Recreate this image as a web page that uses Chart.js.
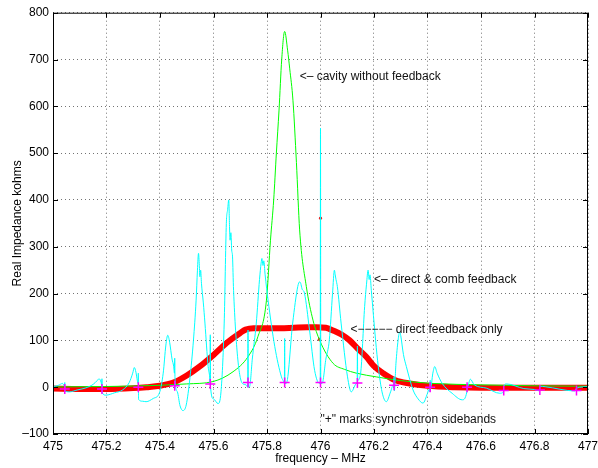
<!DOCTYPE html>
<html>
<head>
<meta charset="utf-8">
<script src="https://cdn.jsdelivr.net/npm/chart.js@4.4.1/dist/chart.umd.min.js"></script>
<style>
  html, body { margin: 0; padding: 0; background: #fff; }
  #wrap { width: 598px; height: 468px; }
</style>
</head>
<body>
<div id="wrap"><canvas id="chart"></canvas></div>
<script>
// x ticks (MHz) and y ticks (kohms)
const xTicks = [475, 475.2, 475.4, 475.6, 475.8, 476, 476.2, 476.4, 476.6, 476.8, 477];
const xTickLabels = ["475", "475.2", "475.4", "475.6", "475.8", "476", "476.2", "476.4", "476.6", "476.8", "477"];
const yTicks = [-100, 0, 100, 200, 300, 400, 500, 600, 700, 800];

// cavity without feedback
const greenPts = [
  [475.0, 0.5], [475.2, 1.5], [475.3, 2.5], [475.4, 4], [475.5, 7], [475.598, 12],
  [475.673, 33], [475.729, 65], [475.766, 108], [475.798, 186], [475.813, 314],
  [475.825, 400], [475.835, 500], [475.845, 592], [475.855, 700], [475.866, 760],
  [475.877, 720], [475.885, 680], [475.897, 613], [475.910, 480], [475.922, 336],
  [475.947, 215], [475.972, 143], [475.997, 100], [476.047, 51], [476.09, 38],
  [476.134, 30], [476.209, 22], [476.3, 14], [476.42, 8], [476.6, 5], [476.79, 3], [477.0, 2]
];

// direct feedback only
const redPts = [
  [475.0, -3], [475.1, -4], [475.2, -4], [475.3, -2], [475.35, 0], [475.4, 3],
  [475.45, 10], [475.5, 25], [475.55, 45], [475.6, 69], [475.65, 95], [475.7, 116],
  [475.72, 123], [475.75, 126], [475.8, 126], [475.85, 126], [475.9, 127], [475.95, 128],
  [475.985, 128], [476.02, 127], [476.047, 121], [476.08, 112], [476.109, 100],
  [476.14, 82], [476.171, 65], [476.2, 45], [476.234, 30], [476.28, 15], [476.333, 8],
  [476.4, 3], [476.5, 0], [476.6, -1], [476.8, -1], [477.0, -1]
];
const redDots = [[476.0, 361], [475.996, 102]];

// direct & comb feedback
const cyanPts = [
  [475.000, 1], [475.020, 4], [475.036, 8], [475.043, 2], [475.044, 10], [475.045, -8],
  [475.061, -10], [475.090, -6], [475.120, -2], [475.150, 6], [475.165, 14], [475.172, 18],
  [475.180, 10], [475.182, 4], [475.183, 18], [475.184, -12], [475.198, -17], [475.230, -12],
  [475.260, -6], [475.285, 10], [475.298, 30], [475.304, 42], [475.310, 32], [475.315, 15],
  [475.318, 8], [475.319, 30], [475.320, -26], [475.335, -30], [475.348, -31], [475.375, -24],
  [475.398, -12], [475.412, 30], [475.422, 90], [475.429, 111], [475.436, 96], [475.445, 60],
  [475.451, 45], [475.454, 30], [475.455, 62], [475.456, 20], [475.465, -10], [475.475, -40],
  [475.486, -50], [475.498, -38], [475.512, 20], [475.525, 100], [475.535, 186], [475.540, 250],
  [475.544, 286], [475.547, 260], [475.549, 236], [475.552, 250], [475.555, 222], [475.562, 180],
  [475.568, 137], [475.580, 44], [475.586, 20], [475.587, 10], [475.588, 112], [475.589, 0],
  [475.600, -25], [475.617, -35], [475.628, -10], [475.640, 137], [475.648, 350], [475.653, 380],
  [475.657, 400], [475.660, 340], [475.662, 314], [475.665, 330], [475.668, 293], [475.671, 280],
  [475.675, 207], [475.690, 65], [475.708, 8], [475.722, 5], [475.728, 0], [475.729, 122],
  [475.730, 0], [475.735, 1], [475.745, 60], [475.760, 137], [475.772, 230], [475.778, 265],
  [475.781, 275], [475.785, 260], [475.788, 270], [475.793, 240], [475.804, 186], [475.829, 87],
  [475.854, 22], [475.862, 12], [475.865, 8], [475.866, 104], [475.867, 8], [475.872, 8],
  [475.896, 137], [475.915, 215], [475.922, 225], [475.926, 222], [475.931, 210], [475.940, 201],
  [475.959, 122], [475.978, 36], [475.996, 8], [475.999, 8], [476.000, 553], [476.001, 8],
  [476.006, 8], [476.020, 60], [476.033, 101], [476.045, 200], [476.052, 250], [476.055, 240],
  [476.058, 230], [476.063, 215], [476.077, 137], [476.101, 22], [476.115, -10], [476.135, 8],
  [476.137, 8], [476.138, 88], [476.139, 15], [476.150, 30], [476.165, 172], [476.172, 220],
  [476.178, 250], [476.182, 230], [476.185, 240], [476.190, 207], [476.206, 100], [476.216, 44],
  [476.230, -10], [476.246, -31], [476.262, -10], [476.272, 5], [476.274, 0], [476.275, 22],
  [476.276, -8], [476.282, 50], [476.290, 100], [476.296, 118], [476.300, 110], [476.310, 70],
  [476.321, 44], [476.346, -6], [476.365, -25], [476.383, -34], [476.400, -13], [476.405, -5],
  [476.409, -10], [476.410, 15], [476.411, -5], [476.420, 30], [476.427, 44], [476.436, 30],
  [476.455, 8], [476.492, -13], [476.530, -27], [476.547, -10], [476.548, 5], [476.549, 0],
  [476.560, 17], [476.575, 5], [476.620, -2], [476.670, -13], [476.684, -10], [476.685, 2],
  [476.695, 7], [476.760, -3], [476.800, -5], [476.819, -8], [476.820, 2], [476.840, 1],
  [476.950, -8], [476.957, -2], [477.000, 1]
];

// "+" synchrotron sidebands
const sidebandPts = [
  [475.044, -4], [475.183, -4], [475.319, 0], [475.455, 3], [475.588, 7], [475.729, 10],
  [475.866, 10], [476.0, 10], [476.138, 9], [476.275, 4], [476.41, 0], [476.548, 0],
  [476.685, -7], [476.82, -6], [476.957, -7]
];

const notes = [
  { text: "<\u2013 cavity without feedback", x: 475.922, y: 663 },
  { text: "<\u2013 direct & comb feedback", x: 476.2, y: 230 },
  { text: "<\u2212\u2212\u2212\u2212\u2212 direct feedback only", x: 476.112, y: 123 },
  { text: "\"+\" marks synchrotron sidebands", x: 476.0, y: -70 }
];

const FONT = "'Liberation Sans', Arial, Helvetica, sans-serif";
const toXY = (pts) => pts.map(([x, y]) => ({ x, y }));

function noPad(s) {
  s.paddingLeft = 0;
  s.paddingRight = 0;
  s.paddingTop = 0;
  s.paddingBottom = 0;
}

const frame = {
  id: "frame",
  afterDatasetsDraw(chart) {
    const { ctx, chartArea: a, scales } = chart;
    ctx.save();
    ctx.strokeStyle = "#000";
    ctx.lineWidth = 1;
    ctx.strokeRect(a.left + 0.5, a.top + 0.5, a.right - a.left - 1, a.bottom - a.top - 1);
    ctx.beginPath();
    xTicks.forEach((v) => {
      const px = Math.round(scales.x.getPixelForValue(v)) + 0.5;
      ctx.moveTo(px, a.bottom); ctx.lineTo(px, a.bottom - 5);
      ctx.moveTo(px, a.top); ctx.lineTo(px, a.top + 5);
    });
    yTicks.forEach((v) => {
      const py = Math.round(scales.y.getPixelForValue(v)) + 0.5;
      ctx.moveTo(a.left, py); ctx.lineTo(a.left + 5, py);
      ctx.moveTo(a.right, py); ctx.lineTo(a.right - 5, py);
    });
    ctx.stroke();
    ctx.fillStyle = "#111";
    ctx.font = "12px " + FONT;
    ctx.textBaseline = "middle";
    ctx.textAlign = "left";
    notes.forEach((n) => {
      ctx.fillText(n.text, scales.x.getPixelForValue(n.x), scales.y.getPixelForValue(n.y));
    });
    ctx.restore();
  }
};

const gridStyle = { color: "rgba(0,0,0,0.55)", drawTicks: false, lineWidth: 1 };

new Chart(document.getElementById("chart"), {
  type: "scatter",
  data: {
    datasets: [
      {
        label: "sidebands",
        data: toXY(sidebandPts),
        showLine: false,
        pointStyle: "cross",
        pointRadius: 5,
        borderColor: "#ff00ff",
        borderWidth: 1.5
      },
      {
        label: "direct & comb feedback",
        data: toXY(cyanPts),
        showLine: true,
        borderColor: "#00ffff",
        borderWidth: 1,
        pointRadius: 0,
        cubicInterpolationMode: "monotone"
      },
      {
        label: "cavity without feedback",
        data: toXY(greenPts),
        showLine: true,
        borderColor: "#00ff00",
        borderWidth: 1,
        pointRadius: 0,
        cubicInterpolationMode: "monotone"
      },
      {
        label: "red dots",
        data: toXY(redDots),
        showLine: false,
        pointRadius: 1.2,
        backgroundColor: "#ff0000",
        borderColor: "#ff0000"
      },
      {
        label: "direct feedback only",
        data: toXY(redPts),
        showLine: true,
        borderColor: "#ff0000",
        borderWidth: 6,
        pointRadius: 0,
        cubicInterpolationMode: "monotone"
      }
    ]
  },
  options: {
    responsive: true,
    maintainAspectRatio: false,
    animation: false,
    layout: { padding: { top: 12.7, right: 10, left: 0, bottom: 0 } },
    plugins: { legend: { display: false }, tooltip: { enabled: false } },
    scales: {
      x: {
        type: "linear",
        min: 475,
        max: 477,
        afterFit(s) { s.height = 34; noPad(s); },
        afterBuildTicks(s) { s.ticks = xTicks.map((v) => ({ value: v })); },
        border: { display: false, dash: [1, 3] },
        grid: gridStyle,
        ticks: {
          color: "#000",
          padding: 5,
          maxRotation: 0,
          autoSkip: false,
          font: { family: FONT, size: 12 },
          callback(v) { const i = xTicks.indexOf(v); return i >= 0 ? xTickLabels[i] : ""; }
        },
        title: {
          display: true,
          text: "frequency \u2013 MHz",
          color: "#000",
          font: { family: FONT, size: 12 },
          padding: { top: 0, bottom: 2 }
        }
      },
      y: {
        type: "linear",
        min: -100,
        max: 800,
        afterFit(s) { s.width = 53; noPad(s); },
        afterBuildTicks(s) { s.ticks = yTicks.map((v) => ({ value: v })); },
        border: { display: false, dash: [1, 3] },
        grid: gridStyle,
        ticks: {
          color: "#000",
          padding: 4,
          font: { family: FONT, size: 12 },
          callback(v) { return v < 0 ? "\u2013" + Math.abs(v) : String(v); }
        },
        title: {
          display: true,
          text: "Real Impedance kohms",
          color: "#000",
          font: { family: FONT, size: 12 },
          padding: { top: 10, bottom: 0 }
        }
      }
    }
  },
  plugins: [frame]
});
</script>
</body>
</html>
